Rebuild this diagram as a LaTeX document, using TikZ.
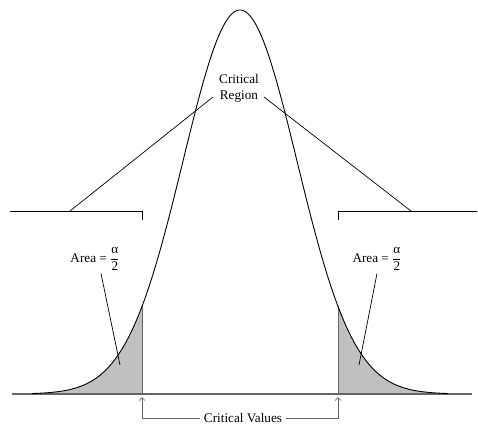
\documentclass[tikz,border=0pt]{standalone}
\usepackage{fontspec}
\setmainfont{Liberation Serif}
\usetikzlibrary{arrows.meta}
\definecolor{tailgray}{HTML}{C0C0C0}
\definecolor{axisgray}{HTML}{666666}

\begin{document}
\begin{tikzpicture}[
    x=1pt, y=-1pt,
    declare function={bell(\t)=394-384*exp(-0.5*((\t-240)/57)^2);},
    lbl/.style={inner sep=1pt, align=center, font=\fontsize{13.2}{16}\selectfont},
    thin line/.style={line width=0.7pt},
    arr/.style={-{Straight Barb[length=3pt, width=6pt]}, line width=0.7pt, axisgray},
  ]
    \useasboundingbox (0,0) rectangle (478,426);

    \fill[tailgray] (32,394) -- plot[domain=32:142, samples=60] (\x, {bell(\x)}) -- (142,394) -- cycle;
    \fill[tailgray] (338,394) -- plot[domain=338:448, samples=60] (\x, {bell(\x)}) -- (448,394) -- cycle;

    \draw[axisgray, line width=1.4pt] (12,394) -- (472,394);
    \draw[axisgray, line width=1pt] (142,394) -- (142,{bell(142)});
    \draw[axisgray, line width=1pt] (338,394) -- (338,{bell(338)});
    \draw[line width=0.9pt] plot[domain=32:448, samples=200, smooth] (\x, {bell(\x)});

    \node[lbl] (region) at (239,88) {Critical\\Region};
    \node[lbl] (areaL) at (95,259) {Area = $\displaystyle\frac{\mbox{α}}{\mbox{2}}$};
    \node[lbl] (areaR) at (377,259) {Area = $\displaystyle\frac{\mbox{α}}{\mbox{2}}$};
    \node[lbl, fill=white, inner xsep=4pt] (values) at (243,418) {Critical Values};

    \coordinate (bracketL) at (70,211);
    \coordinate (bracketR) at (411,211);
    \coordinate (regionL) at (213,97);
    \coordinate (regionR) at (264,97);
    \coordinate (tailL) at (120,365);
    \coordinate (tailR) at (359,365);
    \coordinate (cvL) at (142,397);
    \coordinate (cvR) at (338,397);

    \draw[thin line] (10,211) -- (142,211) -- (142,220);
    \draw[thin line] (338,220) -- (338,211) -- (477,211);
    \draw[thin line] (bracketL) -- (regionL);
    \draw[thin line] (bracketR) -- (regionR);
    \draw[thin line] (areaL.south) ++(6,2) -- (tailL);
    \draw[thin line] (areaR.south) ++(0,2) -- (tailR);

    \draw[arr] (values.west) -| (cvL);
    \draw[arr] (values.east) -| (cvR);
  \end{tikzpicture}
\end{document}
